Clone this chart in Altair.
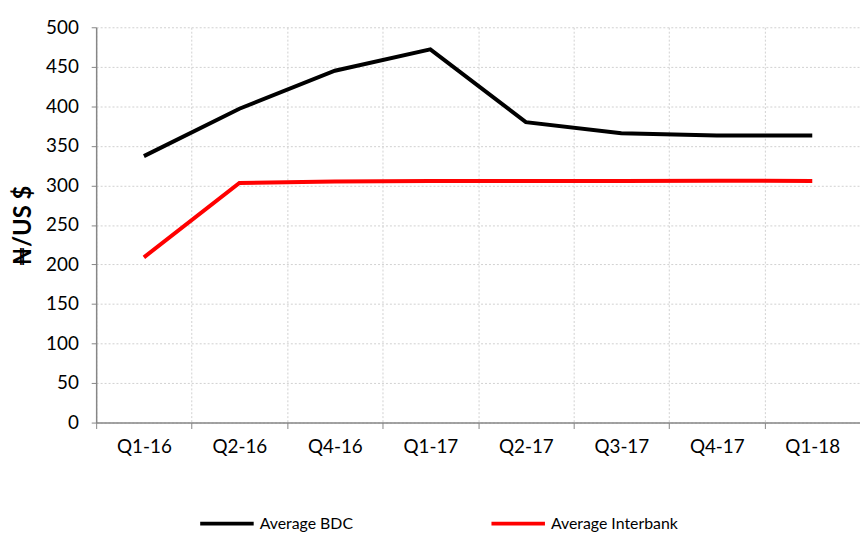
import altair as alt
import pandas as pd

quarters = ["Q1-16", "Q2-16", "Q4-16", "Q1-17", "Q2-17", "Q3-17", "Q4-17", "Q1-18"]
bdc = [337, 397, 445, 472, 380, 366, 363, 363]
interbank = [209, 303, 305, 305.5, 305.5, 305.5, 306, 305.5]
series_names = ["Average BDC", "Average Interbank"]
series_colors = ["#000000", "#ff0000"]

rows = []
for q, v in zip(quarters, bdc):
    rows.append({"quarter": q, "value": v, "series": series_names[0]})
for q, v in zip(quarters, interbank):
    rows.append({"quarter": q, "value": v, "series": series_names[1]})
df = pd.DataFrame(rows)

FONT = "Lato"

chart = alt.Chart(df).mark_line(strokeWidth=4).encode(
    x=alt.X(
        "quarter:N",
        sort=quarters,
        scale=alt.Scale(type="band", paddingInner=0, paddingOuter=0),
        axis=alt.Axis(
            title=None,
            labelAngle=0,
            labelFont=FONT,
            labelFontSize=19,
            labelColor="#000000",
            labelPadding=9,
            tickBand="extent",
            tickSize=6,
            tickColor="#868686",
            domainColor="#868686",
            domainWidth=1.5,
            grid=True,
            gridColor="#d0d0d0",
            gridDash=[2, 2],
            gridWidth=1,
        ),
    ),
    y=alt.Y(
        "value:Q",
        scale=alt.Scale(domain=[0, 500], nice=False),
        axis=alt.Axis(
            title="₦/US $",
            values=list(range(0, 501, 50)),
            labelFont=FONT,
            labelFontSize=19,
            labelColor="#000000",
            labelPadding=13,
            tickSize=5,
            tickColor="#868686",
            domainColor="#868686",
            domainWidth=1.5,
            grid=True,
            gridColor="#d0d0d0",
            gridDash=[2, 2],
            gridWidth=1,
            titleFont=FONT,
            titleFontSize=24,
            titleFontWeight="bold",
            titleColor="#000000",
            titleAngle=270,
            titleX=-73,
            titleY=200,
            titleAlign="center",
            titleBaseline="middle",
        ),
    ),
    color=alt.Color(
        "series:N",
        scale=alt.Scale(domain=series_names, range=series_colors),
        legend=alt.Legend(
            title=None,
            orient="none",
            direction="horizontal",
            legendX=103,
            legendY=472,
            symbolType="stroke",
            symbolSize=2916,
            symbolStrokeWidth=4,
            labelFont=FONT,
            labelFontSize=16,
            labelColor="#000000",
            labelOffset=4,
            columnPadding=131,
        ),
    ),
).properties(
    width=771,
    height=399,
    autosize=alt.AutoSizeParams(type="none"),
    padding={"left": 89, "top": 17, "right": 0, "bottom": 108},
).configure_view(stroke=None)

chart.save("out.html", embed_options={"renderer": "svg", "actions": False})
